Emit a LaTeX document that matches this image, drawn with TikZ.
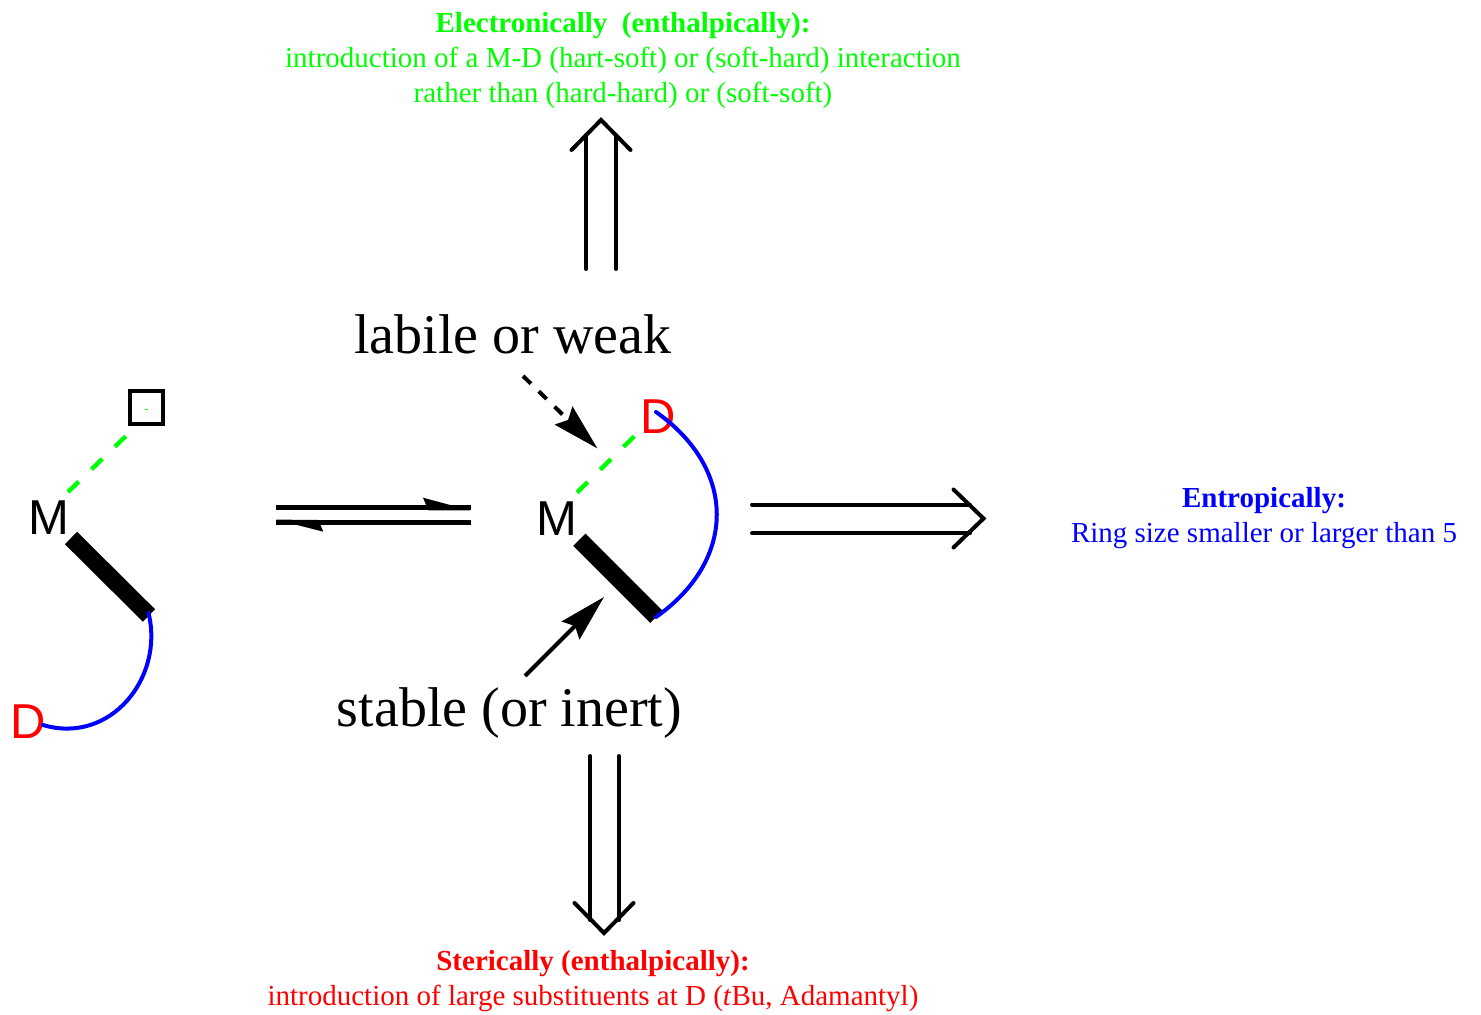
\documentclass[tikz,border=0pt]{standalone}
\usepackage{fontspec}
\setmainfont{Liberation Serif}
\newfontfamily\atomfont{Liberation Sans}
\usetikzlibrary{arrows.meta}
\definecolor{dgreen}{RGB}{0,255,0}
\definecolor{dblue}{RGB}{0,0,255}
\definecolor{dred}{RGB}{255,0,0}
\tikzset{
  atom/.style={inner sep=0pt,font=\atomfont\fontsize{24.5}{24.5}\selectfont},
  bigtext/.style={inner sep=0pt,anchor=base,font=\fontsize{28}{30}\selectfont},
  note/.style={inner sep=0pt,align=center,font=\fontsize{14.5}{17.5}\selectfont},
  strongbond/.style={line width=8.7pt},
  weakbond/.style={dgreen,line width=2.2pt,dash pattern=on 7.5pt off 8.8pt},
  chain/.style={dblue,line width=2pt,line cap=round},
  fatline/.style={line width=2pt,line cap=round,line join=miter},
  bighead/.style={-{Stealth[length=23.5pt,width=12.5pt,inset=3pt]}},
}
\begin{document}
\begin{tikzpicture}[x=0.5pt,y=0.5pt]
\useasboundingbox (0,0) rectangle (1481,-1015);
% left complex
\node[atom] (Ml) at (49,-518) {M};
\node[atom,text=dred] (Dl) at (28,-722) {D};
\node[draw,line width=2pt,inner sep=0pt,minimum size=16.5pt] (vac) at (146,-407.5) {};
\fill[dgreen] (145,-410.5) rectangle (148,-409.5);
\coordinate (wl1) at (68,-492);
\coordinate (wl2) at (127,-435);
\coordinate (sl1) at (71,-538);
\coordinate (sl2) at (149,-615.5);
\coordinate (cl1) at (148.5,-613);
\coordinate (cl2) at (43,-725);
\draw[weakbond] (wl1)--(wl2);
\draw[strongbond] (sl1)--(sl2);
\draw[chain] (cl1) .. controls +(16,-65) and +(67,-20) .. (cl2);
% equilibrium
\coordinate (eq1a) at (276,-507.5);
\coordinate (eq1b) at (471,-507.5);
\coordinate (eq2a) at (471,-522.5);
\coordinate (eq2b) at (276,-522.5);
\draw[line width=2.5pt] (eq1a)--(eq1b);
\draw[line width=2.5pt] (eq2a)--(eq2b);
\fill (470,-510.3) -- (423,-497.7) -- (428.3,-510.3) -- cycle;
\fill (276,-519.6) -- (323.3,-531.7) -- (318.3,-520) -- cycle;
% middle complex
\node[atom] (Mc) at (557,-518.5) {M};
\node[atom,text=dred] (Dc) at (658,-417) {D};
\coordinate (wc1) at (577,-492.5);
\coordinate (wc2) at (634.5,-436);
\coordinate (sc1) at (579.3,-539.7);
\coordinate (sc2) at (656.3,-616.7);
\coordinate (cc1) at (656,-412);
\coordinate (cc2) at (656,-617);
\draw[weakbond] (wc1)--(wc2);
\draw[strongbond] (sc1)--(sc2);
\draw[chain] (cc1) .. controls +(81,-57) and +(81,57) .. (cc2);
% labels in the middle
\node[bigtext] (labile) at (513,-354) {labile or weak};
\node[bigtext] (stable) at (509.5,-726) {stable (or inert)};
\coordinate (lt1) at (523,-376);
\coordinate (lt2) at (597.5,-448.5);
\coordinate (st1) at (525,-676);
\coordinate (st2) at (604,-597);
\draw[bighead,line width=2pt,dash pattern=on 5.5pt off 5.5pt] (lt1)--(lt2);
\draw[bighead,line width=2pt] (st1)--(st2);
% three outcomes
\node[note,text=dgreen] (elec) at (623,-61) {\textbf{Electronically\ \ (enthalpically):}\\introduction of a M-D (hart-soft) or (soft-hard) interaction\\rather than (hard-hard) or (soft-soft)};
\node[note,text=dblue] (entr) at (1264,-518) {\textbf{Entropically:}\\Ring size smaller or larger than 5};
\node[note,text=dred] (ster) at (593,-981) {\textbf{Sterically (enthalpically):}\\introduction of large substituents at D (\textit{t}Bu, Adamantyl)};
% up
\coordinate (ut) at (601,-120);
\draw[fatline] (586,-269)--(586,-135);
\draw[fatline] (616,-269)--(616,-135);
\draw[fatline] ([shift={(-29.5,-30)}]ut)--(ut)--([shift={(29.5,-30)}]ut);
% right
\coordinate (rt) at (983.5,-518.5);
\draw[fatline] (752,-504.5)--(970,-504.5);
\draw[fatline] (752,-533.3)--(970,-533.3);
\draw[fatline] ([shift={(-30,29)}]rt)--(rt)--([shift={(-30,-29)}]rt);
% down
\coordinate (dt) at (604,-933);
\draw[fatline] (590,-756)--(590,-920);
\draw[fatline] (619,-756)--(619,-920);
\draw[fatline] ([shift={(-29.5,30)}]dt)--(dt)--([shift={(29.5,30)}]dt);
\end{tikzpicture}
\end{document}
